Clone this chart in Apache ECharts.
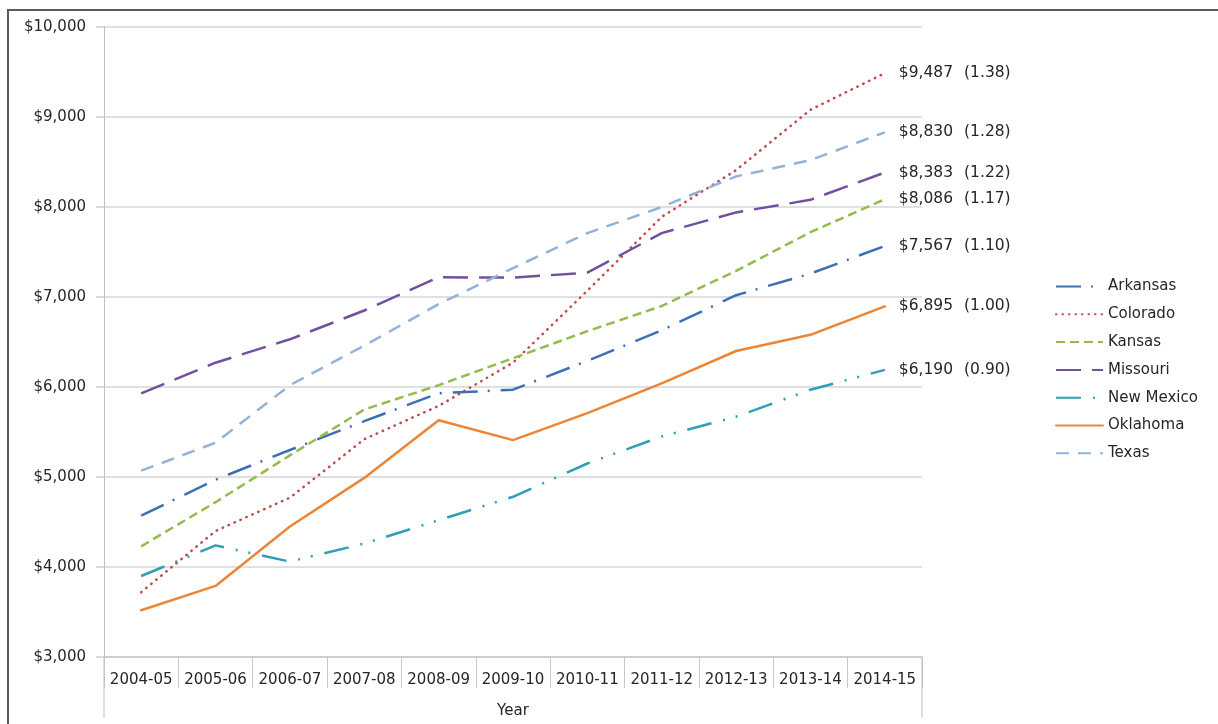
<!DOCTYPE html>
<html>
<head>
<meta charset="utf-8">
<script src="https://cdn.jsdelivr.net/npm/echarts@6/dist/echarts.min.js"></script>
<style>
html,body{margin:0;padding:0;background:#fff;}
#chart{width:1218px;height:724px;}
</style>
</head>
<body>
<div id="chart"></div>
<script>
var categories = ['2004-05','2005-06','2006-07','2007-08','2008-09','2009-10','2010-11','2011-12','2012-13','2013-14','2014-15'];
var seriesNames = ['Arkansas','Colorado','Kansas','Missouri','New Mexico','Oklahoma','Texas'];
var arkansas  = [4570, 4970, 5300, 5620, 5930, 5970, 6290, 6630, 7020, 7260, 7567];
var colorado  = [3720, 4400, 4770, 5420, 5790, 6270, 7070, 7890, 8410, 9080, 9487];
var kansas    = [4230, 4720, 5240, 5750, 6020, 6320, 6620, 6900, 7290, 7720, 8086];
var missouri  = [5930, 6270, 6530, 6850, 7220, 7215, 7270, 7710, 7940, 8080, 8383];
var newMexico = [3900, 4240, 4060, 4260, 4520, 4780, 5150, 5450, 5670, 5970, 6190];
var oklahoma  = [3520, 3790, 4450, 4990, 5630, 5410, 5710, 6040, 6400, 6580, 6895];
var texas     = [5070, 5380, 6020, 6460, 6920, 7320, 7710, 8000, 8340, 8520, 8830];
var ratios    = ['1.10', '1.38', '1.17', '1.22', '0.90', '1.00', '1.28'];
var yTicks = {min: 3000, max: 10000, interval: 1000};

var values = [arkansas, colorado, kansas, missouri, newMexico, oklahoma, texas];
var colors = ['#3B70B6', '#BE4B48', '#93BB4E', '#7150A0', '#2F9FB6', '#EC8535', '#93B2DA'];
var dashes = [[25, 10, 2, 11], [0.5, 6], [9, 5], [25, 11], [25, 12, 2, 11, 2, 12], 'solid', [13, 9]];
var caps = ['butt', 'round', 'butt', 'butt', 'butt', 'round', 'butt'];

var FONT = 'DejaVu Sans';
var TXT = '#262626';
function money(v){ return '$' + Number(v).toLocaleString('en-US'); }

var series = seriesNames.map(function(name, i){
  var ratio = ratios[i];
  return {
    name: name, type: 'line', data: values[i], symbol: 'none', showSymbol: false,
    lineStyle: {color: colors[i], width: 2.5, type: dashes[i], cap: caps[i], join: 'round'},
    itemStyle: {color: colors[i]},
    emphasis: {disabled: true},
    endLabel: {
      show: true, distance: 14,
      formatter: function(p){ return '{v|' + money(p.value) + '}{r|(' + ratio + ')}'; },
      rich: {
        v: {fontFamily: FONT, fontSize: 15.5, color: TXT},
        r: {fontFamily: FONT, fontSize: 15.5, color: TXT, padding: [0, 0, 0, 11]}
      }
    },
    z: 3
  };
});

var chart = echarts.init(document.getElementById('chart'), null, {renderer: 'canvas'});
var G = {left: 104, right: 296, top: 27, bottom: 67};
var option = {
  animation: false,
  backgroundColor: '#ffffff',
  grid: {left: G.left, right: G.right, top: G.top, bottom: G.bottom, containLabel: false},
  legend: {
    orient: 'vertical', left: 1050, top: 274,
    itemWidth: 47, itemHeight: 14, itemGap: 12.8,
    itemStyle: {opacity: 0},
    textStyle: {fontFamily: FONT, fontSize: 15, color: TXT},
    data: seriesNames
  },
  xAxis: {
    type: 'category', data: categories, boundaryGap: true,
    name: 'Year', nameLocation: 'middle', nameGap: 47,
    nameTextStyle: {fontFamily: FONT, fontSize: 15, color: TXT},
    axisLine: {show: true, lineStyle: {color: '#c8c8c8', width: 1.5}},
    axisTick: {show: true, alignWithLabel: false, length: 31, lineStyle: {color: '#c8c8c8', width: 1}},
    axisLabel: {fontFamily: FONT, fontSize: 15, color: TXT, margin: 16, interval: 0},
    splitLine: {show: false}
  },
  yAxis: {
    type: 'value', min: yTicks.min, max: yTicks.max, interval: yTicks.interval,
    axisLine: {show: true, lineStyle: {color: '#bfbfbf', width: 1}},
    axisTick: {show: true, length: 8, lineStyle: {color: '#d0d0d0', width: 1.5}},
    axisLabel: {fontFamily: FONT, fontSize: 15, color: TXT, margin: 18, formatter: function(v){ return money(v); }},
    splitLine: {show: true, lineStyle: {color: '#d6d6d6', width: 1.5}}
  },
  series: series
};
chart.setOption(option);

var W = 1218, H = 724;
var x0 = G.left, x1 = W - G.right, yb = H - G.bottom;
chart.setOption({
  graphic: [
    {type: 'polyline', silent: true, z: 10,
     shape: {points: [[8, H], [8, 10], [W, 10]]},
     style: {stroke: '#5a5a5a', lineWidth: 2, fill: null}},
    {type: 'line', silent: true, z: 5,
     shape: {x1: x0, y1: yb, x2: x0, y2: 718},
     style: {stroke: '#bfbfbf', lineWidth: 1}},
    {type: 'line', silent: true, z: 5,
     shape: {x1: x1, y1: yb, x2: x1, y2: 718},
     style: {stroke: '#bfbfbf', lineWidth: 1}}
  ]
});
</script>
</body>
</html>
